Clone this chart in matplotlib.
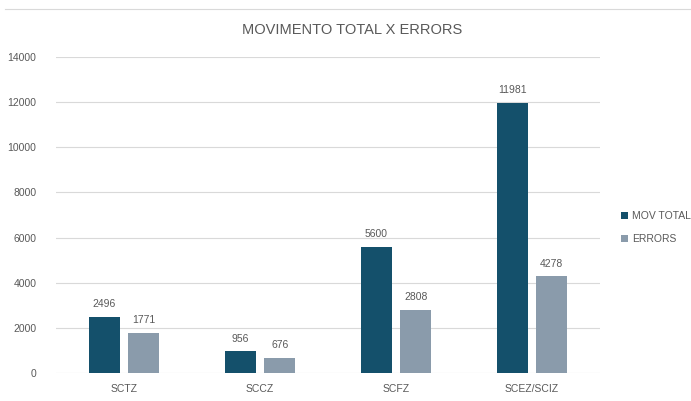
import numpy as np
import matplotlib.pyplot as plt
from matplotlib.lines import Line2D

plt.rcParams['font.family'] = ['Liberation Sans Narrow', 'Liberation Sans', 'DejaVu Sans']

categories = ['SCTZ', 'SCCZ', 'SCFZ', 'SCEZ/SCIZ']
mov_total = [2496, 956, 5600, 11981]
errors = [1771, 676, 2808, 4278]

dark = '#14506b'
grey = '#8a9bab'
txt = '#595959'

fig = plt.figure(figsize=(6.91, 4.01), dpi=100)
ax = fig.add_axes([56/691, 1 - 373/401, 544/691, (373 - 57)/401])

x = np.arange(len(categories))
w = 0.23
off = 0.145
b1 = ax.bar(x - off, mov_total, w, color=dark, label='MOV TOTAL', zorder=3)
b2 = ax.bar(x + off, errors, w, color=grey, label='ERRORS', zorder=3)

for bars in (b1, b2):
    for r in bars:
        ax.text(r.get_x() + r.get_width()/2, r.get_height() + 350, str(int(r.get_height())),
                ha='center', va='bottom', fontsize=7.5, color=txt)

ax.set_xlim(-0.5, 3.5)
ax.set_ylim(0, 14000)
ax.set_yticks(range(0, 14001, 2000))
ax.set_xticks(x)
ax.set_xticklabels(categories)
ax.yaxis.grid(True, color='#d9d9d9', linewidth=0.8, zorder=0)
ax.tick_params(axis='both', length=0, labelsize=7.5, colors=txt)
ax.tick_params(axis='x', pad=8)
ax.tick_params(axis='y', pad=14)
for s in ax.spines.values():
    s.set_visible(False)

fig.text(352/691, 1 - 30/401, 'MOVIMENTO TOTAL X ERRORS', ha='center', va='center',
         fontsize=10.5, color=txt)

leg = fig.legend(loc='upper left', bbox_to_anchor=(612/691, 1 - 202/401), frameon=False,
                 fontsize=7.5, handlelength=0.6, handleheight=0.6, handletextpad=0.4,
                 labelspacing=1.2, labelcolor=txt)

fig.add_artist(Line2D([5/691, 1], [1 - 9/401, 1 - 9/401], color='#d9d9d9', linewidth=0.8))

fig.savefig('out.png', dpi=100)
